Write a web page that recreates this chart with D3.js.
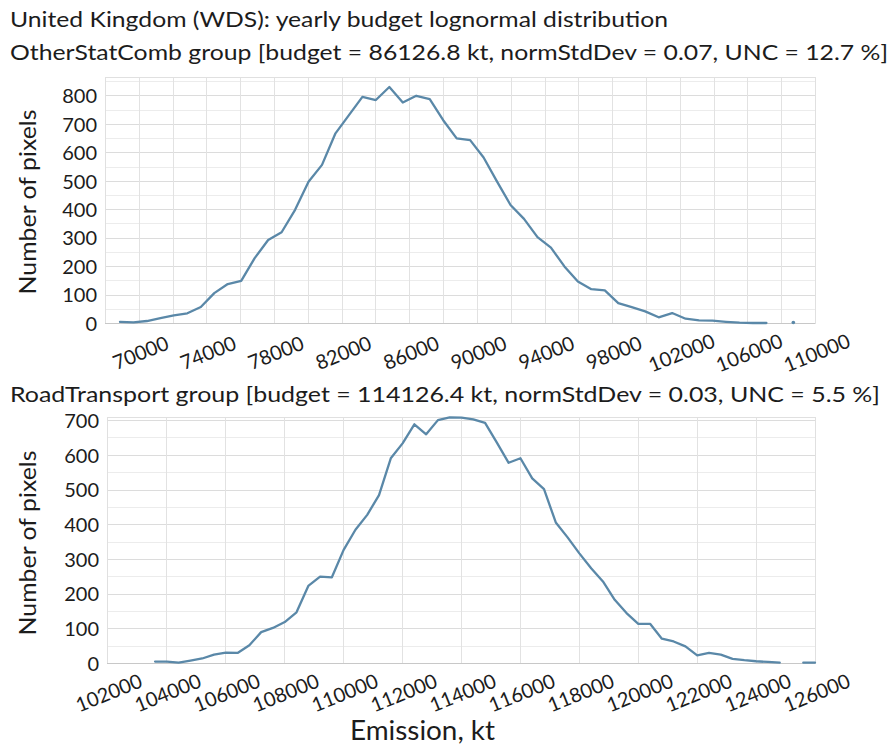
<!DOCTYPE html>
<html>
<head>
<meta charset="utf-8">
<script src="https://cdn.jsdelivr.net/npm/d3@7"></script>
<style>
  html, body { margin: 0; padding: 0; background: #fff; }
  svg { display: block; font-family: Lato, "Open Sans", sans-serif; }
</style>
</head>
<body>
<svg id="chart" width="895" height="746"></svg>
<script>
// ---- Titles ----
const mainTitle = "United Kingdom (WDS): yearly budget lognormal distribution";
const topTitle = "OtherStatComb group [budget = 86126.8 kt, normStdDev = 0.07, UNC = 12.7 %]";
const bottomTitle = "RoadTransport  group [budget = 114126.4 kt, normStdDev = 0.03, UNC = 5.5 %]";
const yAxisTitle = "Number of pixels";
const xAxisTitle = "Emission, kt";

// ---- OtherStatComb group: bin centres (kt) and pixel counts ----
const otherEmission = [
  68888, 69685, 70481, 71278, 72074, 72871, 73668, 74464, 75261, 76057,
  76854, 77651, 78447, 79244, 80040, 80837, 81634, 82430, 83227, 84023,
  84820, 85617, 86413, 87210, 88006, 88803, 89600, 90396, 91193, 91989,
  92786, 93583, 94379, 95176, 95972, 96769, 97566, 98362, 99159, 99955,
  100752, 101549, 102345, 103142, 103938, 104735, 105532, 106328, 107125, 107921,
  108718
];
const otherPixels = [
  4, 2, 7, 17, 27, 34, 56, 105, 137, 148,
  228, 292, 319, 398, 497, 556, 667, 731, 795, 784,
  830, 775, 799, 787, 713, 649, 643, 582, 497, 415,
  366, 302, 265, 199, 146, 119, 115, 70, 56, 41,
  20, 35, 15, 9, 8, 4, 1, 0, 0, null,
  2
];
const otherXTicks = [70000, 74000, 78000, 82000, 86000, 90000, 94000, 98000, 102000, 106000, 110000];
const otherYTicks = [0, 100, 200, 300, 400, 500, 600, 700, 800];

// ---- RoadTransport group: bin centres (kt) and pixel counts ----
const roadEmission = [
  103630, 104030, 104429, 104829, 105228, 105628, 106027, 106427, 106826, 107226,
  107625, 108025, 108424, 108824, 109223, 109623, 110022, 110422, 110821, 111221,
  111620, 112020, 112419, 112819, 113218, 113618, 114017, 114417, 114816, 115216,
  115615, 116015, 116414, 116814, 117213, 117613, 118012, 118412, 118811, 119211,
  119610, 120010, 120409, 120809, 121208, 121608, 122007, 122407, 122806, 123206,
  123605, 124005, 124404, 124804, 125203, 125603, 126000
];
const roadPixels = [
  4, 4, 1, 7, 13, 24, 30, 29, 51, 89,
  101, 118, 146, 222, 249, 247, 326, 384, 427, 484,
  590, 633, 688, 659, 700, 708, 707, 702, 692, 635,
  577, 590, 532, 501, 405, 362, 316, 273, 235, 182,
  144, 113, 113, 70, 62, 48, 22, 29, 24, 12,
  8, 5, 3, 1, null, 1, 1
];
const roadXTicks = [102000, 104000, 106000, 108000, 110000, 112000, 114000, 116000, 118000, 120000, 122000, 124000, 126000];
const roadYTicks = [0, 100, 200, 300, 400, 500, 600, 700];

const svg = d3.select("#chart");
const TEXT = "#1c1c1c";
const LINE = "#5a88a8";

// Stretch or squeeze a text element to a given pixel width.
function fitWidth(sel, w) {
  sel.attr("textLength", w).attr("lengthAdjust", "spacingAndGlyphs");
}

svg.append("text").attr("x", 10).attr("y", 27).attr("fill", TEXT)
  .style("font-size", "22px").text(mainTitle).call(fitWidth, 658);
svg.append("text").attr("x", 10).attr("y", 60).attr("fill", TEXT)
  .style("font-size", "22px").text(topTitle).call(fitWidth, 878);
svg.append("text").attr("x", 10).attr("y", 402).attr("fill", TEXT)
  .style("font-size", "22px").text(bottomTitle).call(fitWidth, 870);
svg.append("text").attr("x", 350).attr("y", 740).attr("fill", TEXT)
  .style("font-size", "26px").text(xAxisTitle).call(fitWidth, 145);

function panel(cfg) {
  const x = d3.scaleLinear().domain(cfg.xDomain).range([cfg.left, cfg.right]);
  const y = d3.scaleLinear().domain(cfg.yDomain).range([cfg.bottom, cfg.top]);
  const g = svg.append("g");

  // horizontal grid every 50 pixels-count, vertical grid every 2000 kt
  g.append("g").selectAll("line").data(d3.range(50, cfg.yDomain[1], 50)).join("line")
    .attr("x1", cfg.left).attr("x2", cfg.right)
    .attr("y1", d => Math.round(y(d)) + 0.5).attr("y2", d => Math.round(y(d)) + 0.5)
    .attr("stroke", d => d % 100 === 0 ? "#dcdcdc" : "#ececec").attr("stroke-width", 1);
  g.append("g").selectAll("line").data(cfg.xGrid).join("line")
    .attr("y1", cfg.top).attr("y2", cfg.bottom)
    .attr("x1", d => Math.round(x(d)) + 0.5).attr("x2", d => Math.round(x(d)) + 0.5)
    .attr("stroke", "#e2e2e2").attr("stroke-width", 1);

  // plot frame
  g.append("rect").attr("x", cfg.left + 0.5).attr("y", cfg.top + 0.5)
    .attr("width", cfg.right - cfg.left).attr("height", cfg.bottom - cfg.top)
    .attr("fill", "none").attr("stroke", "#e0e0e0");
  // zero line
  g.append("line").attr("x1", cfg.left).attr("x2", cfg.right)
    .attr("y1", Math.round(y(0)) + 0.5).attr("y2", Math.round(y(0)) + 0.5)
    .attr("stroke", "#c8c8c8").attr("stroke-width", 1.2);

  // y axis labels
  const yAxis = d3.axisLeft(y).tickValues(cfg.yTicks).tickSize(0).tickPadding(0);
  const ya = g.append("g").attr("transform", `translate(${cfg.left - 8},0)`).call(yAxis);
  ya.select(".domain").remove();
  ya.selectAll("text").attr("fill", TEXT).style("font-size", "20px")
    .style("font-family", "Lato, sans-serif").attr("dy", "0.36em");

  // x axis labels, rotated and centred on the tick
  const xAxis = d3.axisBottom(x).tickValues(cfg.xTicks).tickSize(0).tickFormat(d3.format("d"));
  const xa = g.append("g").attr("transform", `translate(0,${cfg.bottom})`).call(xAxis);
  xa.select(".domain").remove();
  xa.selectAll(".tick text").attr("fill", TEXT).style("font-size", "20px")
    .style("font-family", "Lato, sans-serif")
    .attr("y", 0).attr("dy", 0)
    .attr("text-anchor", "middle").attr("dominant-baseline", "central")
    .attr("transform", "translate(1,29) rotate(-22)");

  // y axis title
  svg.append("text").attr("transform", `translate(36,${cfg.titleY}) rotate(-90)`)
    .attr("text-anchor", "middle").attr("fill", TEXT).style("font-size", "23px")
    .text(yAxisTitle).call(fitWidth, 185);

  // distribution line
  const pts = cfg.xs.map((v, i) => ({ x: v, y: cfg.ys[i] }));
  const line = d3.line().defined(d => d.y != null).x(d => x(d.x)).y(d => y(d.y));
  g.append("path").datum(pts).attr("d", line)
    .attr("fill", "none").attr("stroke", LINE).attr("stroke-width", 2.3)
    .attr("stroke-linejoin", "round").attr("stroke-linecap", "round");
  // isolated points that have no neighbours to connect to
  const lone = pts.filter((d, i) => d.y != null &&
    (i === 0 || pts[i - 1].y == null) && (i === pts.length - 1 || pts[i + 1].y == null));
  g.selectAll("circle").data(lone).join("circle")
    .attr("cx", d => x(d.x)).attr("cy", d => y(d.y)).attr("r", 1.8).attr("fill", LINE);
}

panel({
  xs: otherEmission, ys: otherPixels, xTicks: otherXTicks, yTicks: otherYTicks,
  xDomain: [68000, 110000], yDomain: [0, 865],
  xGrid: d3.range(70000, 110000, 2000),
  left: 105, right: 815, top: 77, bottom: 323, titleY: 202
});
panel({
  xs: roadEmission, ys: roadPixels, xTicks: roadXTicks, yTicks: roadYTicks,
  xDomain: [102000, 126000], yDomain: [0, 709],
  xGrid: d3.range(104000, 126000, 2000),
  left: 107, right: 815, top: 417, bottom: 663, titleY: 543
});
</script>
</body>
</html>
